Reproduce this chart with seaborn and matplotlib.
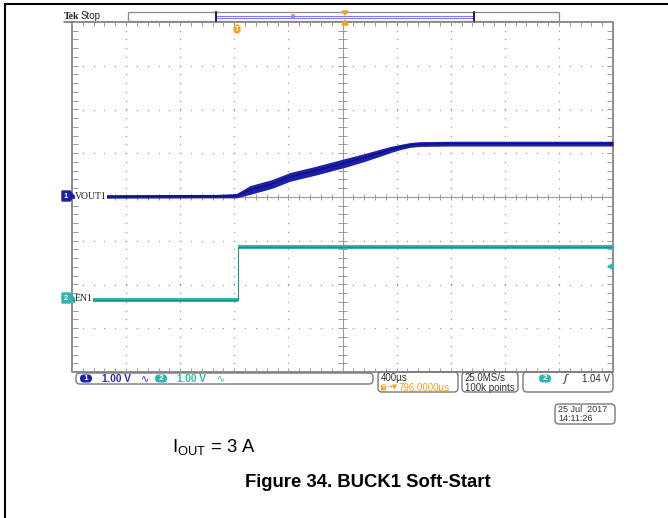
import numpy as np
import pandas as pd
import matplotlib
matplotlib.use("Agg")
import matplotlib.pyplot as plt
from matplotlib.patches import FancyBboxPatch, Rectangle, Polygon
import seaborn as sns

sns.set_theme(style="white")
plt.rcParams["font.family"] = ["Liberation Sans", "DejaVu Sans"]

# ---- waveform data (screen divisions: x = 400 us/div, y = 1 V/div) ----
vout_t = [-5.0, -2.3, -1.96, -1.71, -1.3, -0.97, -0.5, 0.05, 0.4, 0.69, 0.9, 1.06, 1.25, 1.43, 2.0, 3.0, 5.0]
vout_v = [0.01, 0.02, 0.03, 0.16, 0.30, 0.46, 0.60, 0.78, 0.90, 1.01, 1.09, 1.14, 1.19, 1.21, 1.22, 1.22, 1.22]
vout_hw = [0.04, 0.04, 0.05, 0.10, 0.10, 0.10, 0.10, 0.10, 0.09, 0.08, 0.07, 0.06, 0.055, 0.055, 0.055, 0.055, 0.055]

en_t = [-5.0, -1.94, -1.94, 5.0]
en_v = [-2.35, -2.35, -1.14, -1.14]
en_hw = [0.045, 0.045, 0.045, 0.045]

ch1_label, ch2_label = "VOUT1", "EN1"
ch1_scale, ch2_scale = "1.00 V", "1.00 V"
timebase, trig_pos = "400µs", "796.0000µs"
sample_rate, record_len = "25.0MS/s", "100k points"
trig_level = "1.04 V"
date_str, time_str = "25 Jul  2017", "14:11:26"

BLUE = "#1c20a6"
BLUE_D = "#0c0f78"
TEAL = "#2cb6b0"
TEAL_D = "#1a8e8a"
ORANGE = "#f7a21b"
GRID = "#9a9a9a"

W, H = 668, 518
fig = plt.figure(figsize=(W / 100, H / 100), dpi=100)

# graticule axes
gl, gr, gt, gb = 72, 613, 22, 372
ax = fig.add_axes([gl / W, (H - gb) / H, (gr - gl) / W, (gb - gt) / H])

# dotted division lines
sub_y = np.arange(-4, 4.001, 0.2)
sub_x = np.arange(-5, 5.001, 0.2)
for xi in range(-4, 5):
    if xi == 0:
        continue
    ax.plot([xi] * len(sub_y), sub_y, ls="none", marker="s", ms=0.9, mew=0, color=GRID)
for yi in range(-3, 4):
    if yi == 0:
        continue
    ax.plot(sub_x, [yi] * len(sub_x), ls="none", marker="s", ms=0.9, mew=0, color=GRID)

# centre cross with minor ticks
ax.axhline(0, color=GRID, lw=0.8)
ax.axvline(0, color=GRID, lw=0.8)
ax.vlines(sub_x, -0.07, 0.07, color=GRID, lw=0.7)
ax.hlines(sub_y, -0.09, 0.09, color=GRID, lw=0.7)
# border with inward ticks
ax.vlines(sub_x, 4 - 0.09, 4, color=GRID, lw=0.7)
ax.vlines(sub_x, -4, -4 + 0.09, color=GRID, lw=0.7)
ax.hlines(sub_y, -5, -5 + 0.11, color=GRID, lw=0.7)
ax.hlines(sub_y, 5 - 0.11, 5, color=GRID, lw=0.7)
ax.add_patch(Rectangle((-5, -4), 10, 8, fill=False, ec="#6e6e6e", lw=1.1, clip_on=False))

# traces
vout = pd.DataFrame({"t": vout_t, "v": vout_v, "hw": vout_hw})
en = pd.DataFrame({"t": en_t, "v": en_v, "hw": en_hw})
ax.fill_between(vout["t"], vout["v"] - vout["hw"], vout["v"] + vout["hw"], color=BLUE, lw=0, zorder=3)
sns.lineplot(data=vout, x="t", y="v", ax=ax, color=BLUE_D, lw=0.9, zorder=4,
             sort=False, estimator=None)
ax.fill_between(en["t"], en["v"] - en["hw"], en["v"] + en["hw"], color=TEAL, lw=0, zorder=3)
sns.lineplot(data=en, x="t", y="v", ax=ax, color=TEAL_D, lw=0.8, zorder=4,
             sort=False, estimator=None)
ax.set_xlim(-5, 5)
ax.set_ylim(-4, 4)
ax.set_axis_off()

# overlay in pixel coordinates
ov = fig.add_axes([0, 0, 1, 1], zorder=5)
ov.set_xlim(0, W)
ov.set_ylim(H, 0)
ov.set_axis_off()
ov.patch.set_alpha(0)

# outer frame
ov.plot([5, W], [4, 4], color="black", lw=1.5)
ov.plot([5, 5], [4, H], color="black", lw=1.5)

# top line extends under the title
ov.plot([64, gl], [gt, gt], color="#6e6e6e", lw=1.1)
ov.text(64, 19, "Tek", fontsize=7, fontweight="bold", family="Liberation Serif", color="#222222")
ov.text(81, 19, "Stop", fontsize=7, color="#222222")

# record bar
ov.add_patch(Rectangle((128, 12), 431, 9, fill=False, ec="#8a8a8a", lw=0.9))
ov.plot([216, 474], [16, 16], color="#7b7bff", lw=0.8)
ov.plot([216, 474], [18, 18], color="#7b7bff", lw=0.8)
ov.plot([216, 216], [12, 21], color="#222222", lw=1.4)
ov.plot([474, 474], [12, 21], color="#222222", lw=1.4)
ov.add_patch(Polygon([[342, 11], [348, 11], [345, 15]], closed=True, color=ORANGE))
ov.add_patch(Polygon([[342, 25], [348, 25], [345, 20]], closed=True, color=ORANGE))
ov.add_patch(FancyBboxPatch((291, 14), 4, 5, boxstyle="round,pad=0,rounding_size=1.5", fc=ORANGE, ec="none"))

# trigger-position tag
ov.add_patch(FancyBboxPatch((233.5, 24.5), 7, 9, boxstyle="round,pad=0,rounding_size=3", fc=ORANGE, ec="none"))
ov.text(237, 29.5, "T", fontsize=5, color="white", fontweight="bold", ha="center", va="center")

# channel ground markers and labels
def ch_marker(y, color, num):
    ov.add_patch(Polygon([[62, y - 5], [70, y - 5], [74, y], [70, y + 5], [62, y + 5]], closed=True, color=color))
    ov.text(66, y + 0.3, num, fontsize=5.5, color="white", fontweight="bold", ha="center", va="center")

ch_marker(196, BLUE, "1")
ch_marker(298, TEAL, "2")
lbl_box = dict(boxstyle="square,pad=0.05", fc="white", ec="none")
ov.text(75, 196.5, ch1_label, fontsize=7, family="Liberation Serif", color="#222222", va="center", bbox=lbl_box)
ov.text(75, 298.5, ch2_label, fontsize=7, family="Liberation Serif", color="#222222", va="center", bbox=lbl_box)

# trigger level arrow
ov.add_patch(Polygon([[608, 266.5], [613, 263.5], [613, 269.5]], closed=True, color=TEAL))

# status bar
def rbox(x0, y0, x1, y1):
    ov.add_patch(FancyBboxPatch((x0, y0), x1 - x0, y1 - y0, boxstyle="round,pad=0,rounding_size=4",
                                fc="none", ec="#7a7a7a", lw=1.0))

rbox(76, 373, 373, 384)
rbox(378, 372, 458, 392)
rbox(462, 372, 518, 392)
rbox(523, 372, 613, 392)
rbox(555, 404, 615, 424)

def badge(x, y, num, color):
    ov.add_patch(FancyBboxPatch((x - 6, y - 4), 12, 8, boxstyle="round,pad=0,rounding_size=4", fc=color, ec="none"))
    ov.text(x, y + 0.3, num, fontsize=6, color="white", fontweight="bold", ha="center", va="center")

sfont = dict(fontsize=7.2, fontweight="bold", va="center")
badge(86, 378.5, "1", "#1a1ab4")
ov.text(102, 378.8, ch1_scale, color="#2626b8", **sfont)
ov.text(141, 378.8, "∿", color="#2626b8", fontsize=7, va="center", family=["DejaVu Sans"])
badge(161, 378.5, "2", TEAL)
ov.text(177, 378.8, ch2_scale, color=TEAL, **sfont)
ov.text(217, 378.8, "∿", color=TEAL, fontsize=7, va="center", family=["DejaVu Sans"])

nfont = dict(fontsize=7.0, va="center", color="#333333")
ov.text(381, 378.0, timebase, **nfont)
ov.add_patch(FancyBboxPatch((381, 384.5), 5, 6, boxstyle="round,pad=0,rounding_size=1", fc=ORANGE, ec="none"))
ov.text(383.5, 387.6, "T", fontsize=4.5, color="white", fontweight="bold", ha="center", va="center")
ov.text(386.5, 387.6, "→▼", fontsize=5, color=ORANGE, va="center", family=["DejaVu Sans"])
ov.text(398, 387.6, trig_pos, fontsize=7.0, va="center", color=ORANGE)
ov.text(465, 378.0, sample_rate, **nfont)
ov.text(465, 387.6, record_len, **nfont)
badge(545, 378.5, "2", TEAL)
ov.text(563, 378.5, "ʃ", fontsize=8, va="center", color="#222222", family=["DejaVu Sans"], style="italic")
ov.text(610, 378.5, trig_level, ha="right", **nfont)
ov.text(558, 409.0, date_str, fontsize=6.5, va="center", color="#333333")
ov.text(558, 418.5, time_str, fontsize=6.5, va="center", color="#333333")

# caption text
ov.text(172, 452, r"I$_{\mathregular{OUT}}$ = 3 A", fontsize=13.3, color="black")
ov.text(368, 487, "Figure 34. BUCK1 Soft-Start", fontsize=13.3, fontweight="bold", ha="center", color="black")

fig.savefig("out.png", dpi=100)
